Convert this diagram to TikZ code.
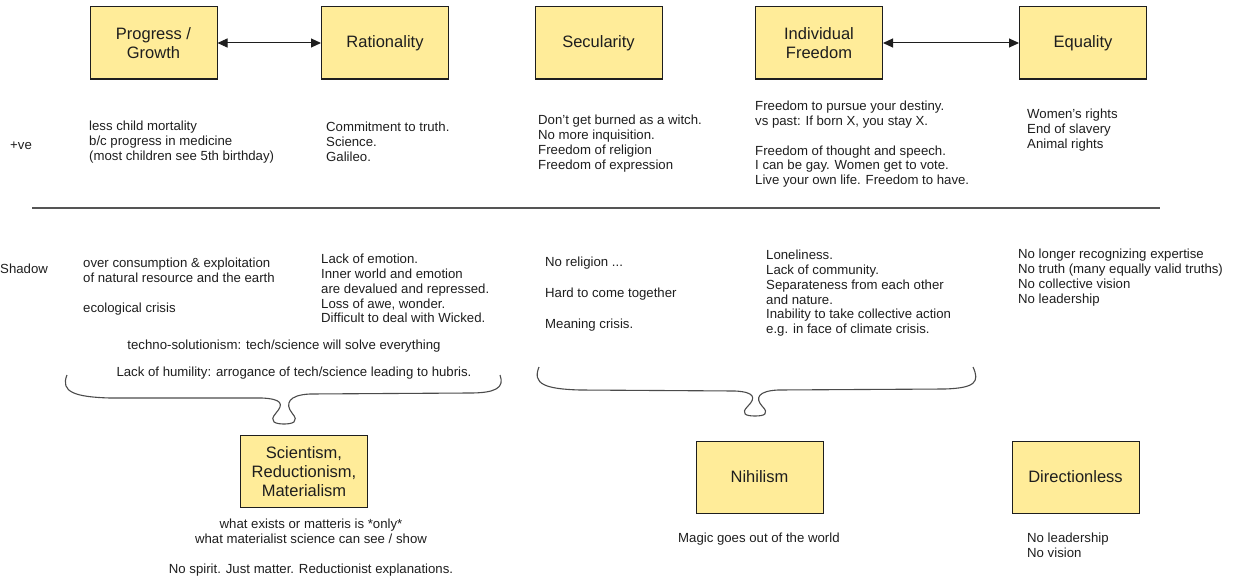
\documentclass[tikz,border=0pt]{standalone}
\usepackage{fontspec}
\setmainfont{Liberation Sans}
\usepackage{tikz}
\usetikzlibrary{positioning,arrows.meta,calc}
\definecolor{ink}{HTML}{1E1E1E}
\definecolor{sticky}{HTML}{FFEC99}
\definecolor{rule}{HTML}{555555}
\newcommand{\notefont}{\fontsize{13.2}{14.8}\selectfont}
\newcommand{\boxfont}{\fontsize{16.5}{19}\selectfont}

\begin{document}
\begin{tikzpicture}[x=1pt, y=-1pt,
        card/.style={draw=ink, line width=1pt, fill=sticky, minimum width=127pt,
                     minimum height=72pt, align=center, font=\boxfont, text=ink},
        note/.style={anchor=north west, align=left, inner sep=0pt, font=\notefont, text=ink},
        cnote/.style={anchor=north, align=center, inner sep=0pt, font=\notefont, text=ink},
        link/.style={draw=ink, line width=1pt, {Triangle[length=10pt,width=9pt]}-{Triangle[length=10pt,width=9pt]}},
        brace/.style={draw=ink!80, line width=1.1pt, line join=round},
      ]
        \useasboundingbox (0,0) rectangle (1242,578);

        % Values of modernity
        \node[card] (progress) at (153.5,43) {Progress /\\ Growth};
        \node[card] (ration) at (385,43) {Rationality};
        \node[card] (secular) at (598.5,43) {Secularity};
        \node[card] (freedom) at (819,43) {Individual\\ Freedom};
        \node[card] (equal) at (1083,43) {Equality};
        \draw[link] (progress) -- (ration);
        \draw[link] (freedom) -- (equal);

        % +ve side
        \node[note] (plus) at (10,142) {+ve};
        \node[note] (progressup) at (89,121) {less child mortality\\ b/c progress in medicine\\ (most children see 5th birthday)};
        \node[note] (rationup) at (326,122) {Commitment to truth.\\ Science.\\ Galileo.};
        \node[note] (secularup) at (538,115) {Don't get burned as a witch.\\ No more inquisition.\\ Freedom of religion\\ Freedom of expression};
        \node[note] (freedomup) at (755,101) {Freedom to pursue your destiny.\\ vs past: If born X, you stay X.\\[14.8pt] Freedom of thought and speech.\\ I can be gay. Women get to vote.\\ Live your own life. Freedom to have.};
        \node[note] (equalup) at (1027,109) {Women's rights\\ End of slavery\\ Animal rights};

        % divider
        \draw[rule, line width=1.2pt] (32,208) -- (1160,208);

        % Shadow side
        \node[note] (shadow) at (0,264) {Shadow};
        \node[note] (progressdown) at (83,258) {over consumption \& exploitation\\ of natural resource and the earth\\[14.8pt] ecological crisis};
        \node[note] (rationdown) at (321,254) {Lack of emotion.\\ Inner world and emotion\\ are devalued and repressed.\\ Loss of awe, wonder.\\ Difficult to deal with Wicked.};
        \node[cnote] (techno) at (284,340) {techno-solutionism: tech/science will solve everything};
        \node[cnote] (humility) at (294,367) {Lack of humility: arrogance of tech/science leading to hubris.};
        \node[note] (seculardown) at (545,257) {No religion ...\\[16pt] Hard to come together\\[16pt] Meaning crisis.};
        \node[note] (freedomdown) at (766,250) {Loneliness.\\ Lack of community.\\ Separateness from each other\\ and nature.\\ Inability to take collective action\\ e.g. in face of climate crisis.};
        \node[note] (equaldown) at (1018,249) {No longer recognizing expertise\\ No truth (many equally valid truths)\\ No collective vision\\ No leadership};

        % braces
        \draw[brace] (67,375) .. controls (60,392) and (75,397) .. (110,398) -- (262,398)
          .. controls (282,399) and (284,404) .. (276,413) .. controls (268,422) and (276,424) .. (284,424)
          .. controls (292,424) and (300,422) .. (292,413) .. controls (285,404) and (288,395) .. (310,394)
          -- (470,393) .. controls (495,393) and (505,388) .. (500,375);
        \draw[brace] (539,367) .. controls (532,384) and (545,389) .. (580,390) -- (735,391)
          .. controls (755,392) and (756,398) .. (748,406) .. controls (740,414) and (746,416) .. (755,416)
          .. controls (764,416) and (770,414) .. (762,406) .. controls (755,398) and (758,391) .. (778,390)
          -- (945,389) .. controls (975,388) and (980,382) .. (973,367);

        % Outcomes
        \node[card] (scient) at (304,471.5) {Scientism,\\ Reductionism,\\ Materialism};
        \node[card] (nihil) at (759.5,477) {Nihilism};
        \node[card] (direction) at (1075.5,477) {Directionless};
        \node[cnote] (scientnote) at (311,519) {what exists or matteris is *only*\\ what materialist science can see / show\\[15pt] No spirit. Just matter. Reductionist explanations.};
        \node[note] (nihilnote) at (678,533) {Magic goes out of the world};
        \node[note] (directionnote) at (1027,533) {No leadership\\ No vision};
      \end{tikzpicture}
\end{document}
